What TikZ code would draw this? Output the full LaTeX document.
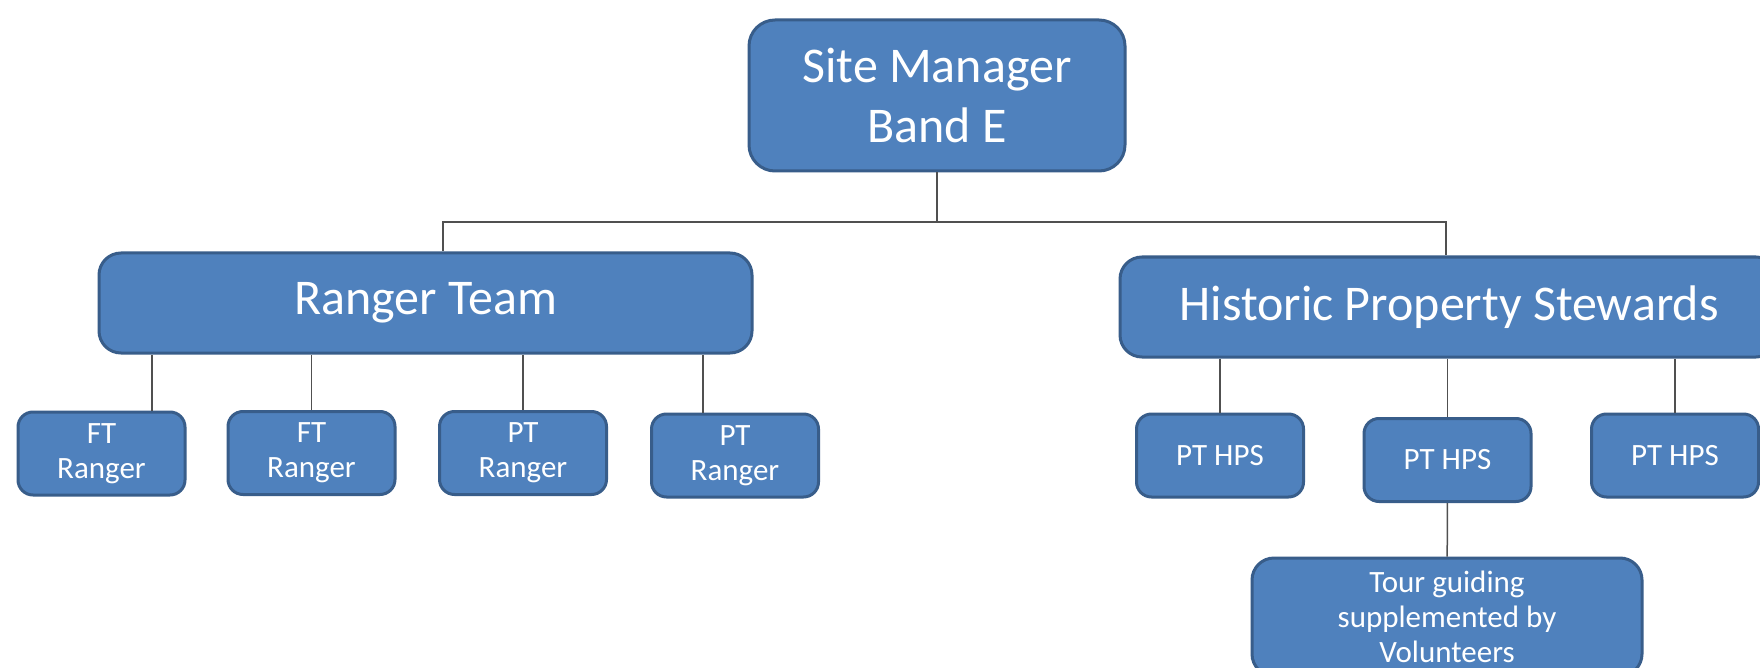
\documentclass[tikz,border=0pt]{standalone}
\usepackage{fontspec}
\setmainfont{Carlito}
\definecolor{boxfill}{RGB}{79,129,189}
\definecolor{boxline}{RGB}{56,93,138}
\definecolor{linkgray}{RGB}{80,80,80}
\begin{document}
\begin{tikzpicture}[x=1pt,y=-1pt,
  box/.style={rectangle, rounded corners=15, fill=boxfill, draw=boxline, line width=3, text=white, align=center, inner sep=0, minimum width=167, minimum height=83, font=\fontsize{31}{35}\selectfont},
  bigbox/.style={box, rounded corners=22, minimum height=100, font=\fontsize{50}{60}\selectfont},
  link/.style={draw=linkgray, line width=1.5}]
\useasboundingbox[fill=white] (0,0) rectangle (1760,668);
\node[bigbox, minimum width=376, minimum height=151, rounded corners=26] (sm) at (937,95.5){Site Manager\\Band E};
\node[bigbox, minimum width=653] (rt) at (425.5,303){Ranger Team};
\node[bigbox, minimum width=658] (hps) at (1449,307){Historic Property Stewards};
\coordinate (bus) at (937,222);
\draw[link](sm) -- (bus);
\draw[link](bus) -| ([xshift=17.5]rt.north);
\draw[link](bus) -| ([xshift=-3]hps.north);
\node[box] (r1) at (101.5,453.5){FT\\Ranger};
\node[box] (r2) at (311.5,453){FT\\Ranger};
\node[box] (r3) at (523,453){PT\\Ranger};
\node[box] (r4) at (735,455.5){PT\\Ranger};
\draw[link]([xshift=50.5]r1.north) -- ([xshift=50.5]r1.north |- rt.south);
\draw[link](r2) -- (r2 |- rt.south);
\draw[link](r3) -- (r3 |- rt.south);
\draw[link]([xshift=-32]r4.north) -- ([xshift=-32]r4.north |- rt.south);
\node[box] (h1) at (1220,455.5){PT HPS};
\node[box] (h2) at (1447.5,460){PT HPS};
\node[box] (h3) at (1675,455.5){PT HPS};
\draw[link](h1) -- (h1 |- hps.south);
\draw[link](h2) -- (h2 |- hps.south);
\draw[link](h3) -- (h3 |- hps.south);
\node[box, minimum width=390, minimum height=118, rounded corners=22] (tg) at (1447,617){Tour guiding\\supplemented by\\Volunteers};
\draw[link](h2) -- (tg);
\end{tikzpicture}
\end{document}
